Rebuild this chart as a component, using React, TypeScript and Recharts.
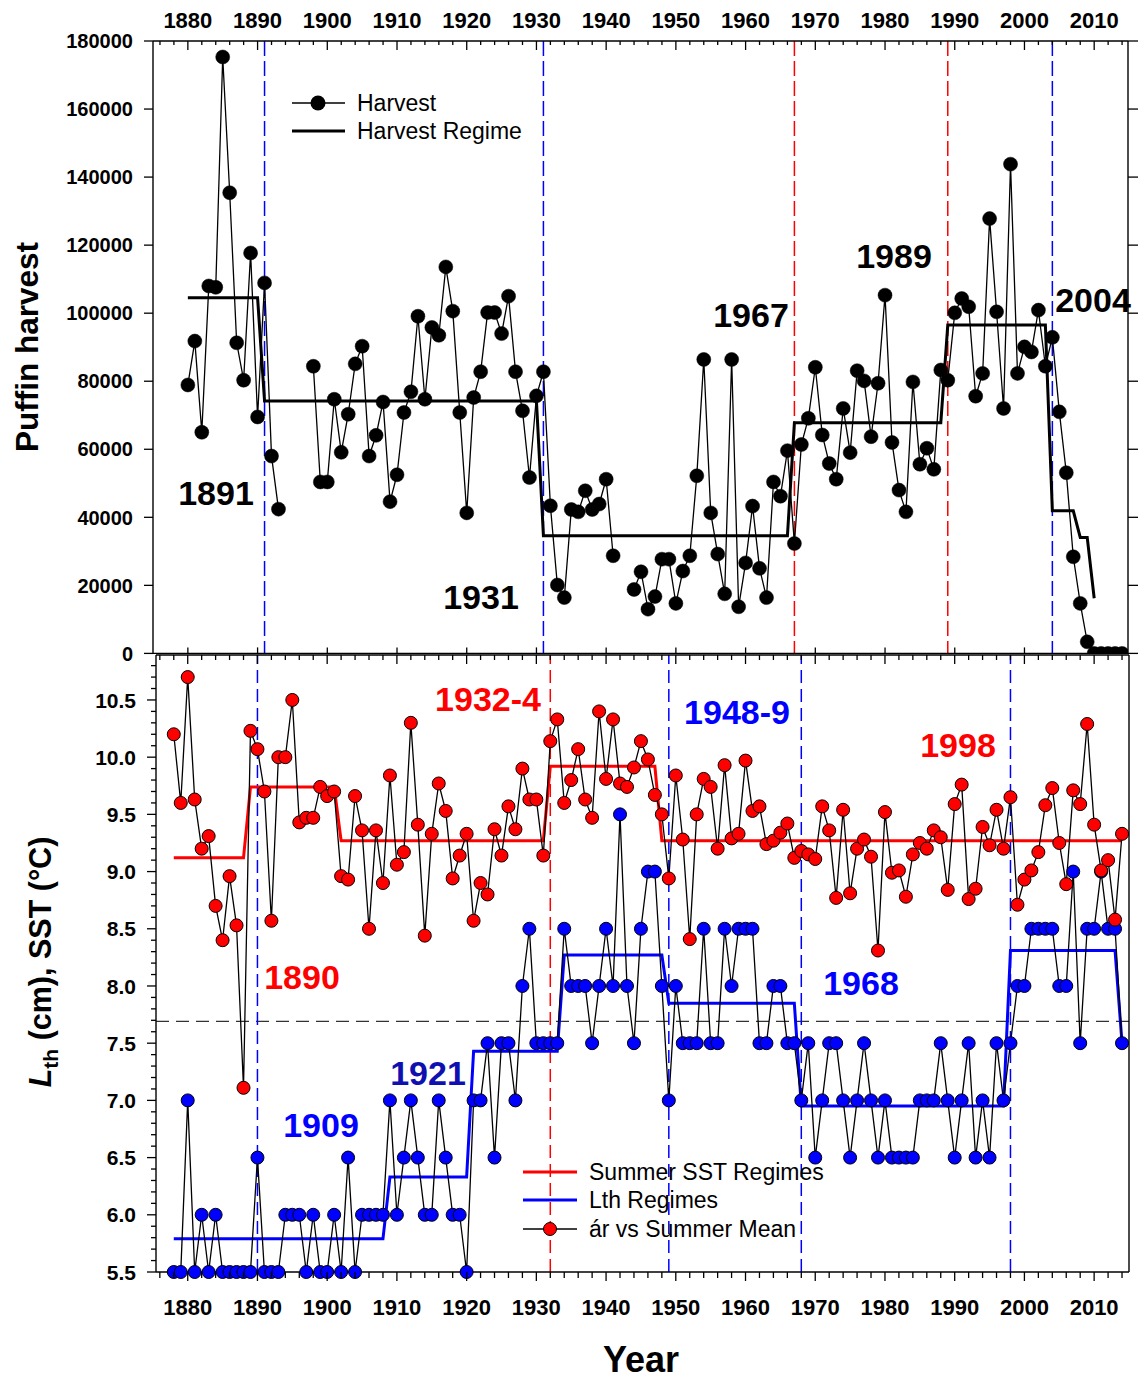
import React from "react";
import { ComposedChart, Line, XAxis, YAxis, ReferenceLine } from "recharts";

const FONT = "'Liberation Sans', Arial, Helvetica, sans-serif";
const INK = "#000";
const RED = "#ff0000";
const BLUE = "#0000ff";
const NAVY = "#1010b0";

// Puffin harvest, one value per year starting 1880 (null = no record)
const HARVEST_START = 1880;
const HARVEST: (number | null)[] = [
  78900, 91800, 65000, 108000, 107600, 175300, 135400, 91300, 80300, 117700,
  69500, 108900, 58000, 42400, null, null, null, null, 84400, 50400,
  50400, 74700, 59100, 70300, 85100, 90300, 58000, 64100, 73900, 44600,
  52500, 70800, 76900, 99100, 74700, 95800, 93500, 113600, 100600, 70800,
  41300, 75200, 82800, 100200, 100200, 94000, 105000, 82800, 71300, 51700,
  75700, 82800, 43400, 20100, 16400, 42300, 41600, 47800, 42300, 43900,
  51200, 28700, null, null, 18800, 24000, 13000, 16700, 27700, 27700,
  14700, 24200, 28700, 52200, 86400, 41300, 29200, 17500, 86400, 13700,
  26600, 43300, 25000, 16400, 50400, 46200, 59600, 32300, 61400, 69100,
  84100, 64200, 55800, 51200, 72000, 59000, 83100, 80100, 63700, 79400,
  105300, 62000, 48000, 41600, 79800, 55600, 60300, 54100, 83300, 80300,
  100100, 104300, 101900, 75600, 82300, 127800, 100400, 72000, 143800, 82300,
  90100, 88600, 100900, 84400, 92900, 71000, 53100, 28400, 14700, 3400,
  0, 0, 0, 0, 0,
];

// [first year, last year, level]
const HARVEST_REGIMES: [number, number, number][] = [
  [1880, 1890, 104500],
  [1891, 1930, 74200],
  [1931, 1966, 34600],
  [1967, 1988, 67800],
  [1989, 2003, 96500],
  [2004, 2007, 41900],
  [2008, 2009, 34100],
  [2010, 2010, 16200],
];

// Summer SST and Lth, one value per year starting 1878
const SERIES_START = 1878;
const SST = [
  10.2, 9.6, 10.7, 9.63, 9.2, 9.31, 8.7, 8.4, 8.96, 8.53,
  7.11, 10.23, 10.07, 9.7, 8.57, 10.0, 10.0, 10.5, 9.43, 9.47,
  9.47, 9.74, 9.66, 9.7, 8.96, 8.93, 9.66, 9.36, 8.5, 9.36,
  8.9, 9.84, 9.06, 9.17, 10.3, 9.41, 8.44, 9.33, 9.77, 9.53,
  8.94, 9.14, 9.33, 8.57, 8.9, 8.8, 9.37, 9.14, 9.57, 9.37,
  9.9, 9.63, 9.63, 9.14, 10.14, 10.33, 9.6, 9.8, 10.07, 9.63,
  9.47, 10.4, 9.81, 10.33, 9.77, 9.74, 9.91, 10.14, 9.98, 9.67,
  9.5, 8.94, 9.84, 9.28, 8.41, 9.5, 9.81, 9.74, 9.2, 9.93,
  9.29, 9.33, 9.97, 9.53, 9.57, 9.24, 9.27, 9.34, 9.42, 9.12,
  9.18, 9.15, 9.11, 9.57, 9.36, 8.77, 9.54, 8.81, 9.2, 9.28,
  9.13, 8.31, 9.52, 8.99, 9.01, 8.78, 9.15, 9.25, 9.2, 9.36,
  9.3, 8.84, 9.59, 9.76, 8.76, 8.85, 9.39, 9.23, 9.54, 9.2,
  9.65, 8.71, 8.93, 9.01, 9.17, 9.58, 9.73, 9.25, 8.89, 9.71,
  9.59, 10.29, 9.41, 9.01, 9.1, 8.58, 9.33,
];
const LTH = [
  5.5, 5.5, 7.0, 5.5, 6.0, 5.5, 6.0, 5.5, 5.5, 5.5,
  5.5, 5.5, 6.5, 5.5, 5.5, 5.5, 6.0, 6.0, 6.0, 5.5,
  6.0, 5.5, 5.5, 6.0, 5.5, 6.5, 5.5, 6.0, 6.0, 6.0,
  6.0, 7.0, 6.0, 6.5, 7.0, 6.5, 6.0, 6.0, 7.0, 6.5,
  6.0, 6.0, 5.5, 7.0, 7.0, 7.5, 6.5, 7.5, 7.5, 7.0,
  8.0, 8.5, 7.5, 7.5, 7.5, 7.5, 8.5, 8.0, 8.0, 8.0,
  7.5, 8.0, 8.5, 8.0, 9.5, 8.0, 7.5, 8.5, 9.0, 9.0,
  8.0, 7.0, 8.0, 7.5, 7.5, 7.5, 8.5, 7.5, 7.5, 8.5,
  8.0, 8.5, 8.5, 8.5, 7.5, 7.5, 8.0, 8.0, 7.5, 7.5,
  7.0, 7.5, 6.5, 7.0, 7.5, 7.5, 7.0, 6.5, 7.0, 7.5,
  7.0, 6.5, 7.0, 6.5, 6.5, 6.5, 6.5, 7.0, 7.0, 7.0,
  7.5, 7.0, 6.5, 7.0, 7.5, 6.5, 7.0, 6.5, 7.5, 7.0,
  7.5, 8.0, 8.0, 8.5, 8.5, 8.5, 8.5, 8.0, 8.0, 9.0,
  7.5, 8.5, 8.5, 9.0, 8.5, 8.5, 7.5,
];

const SST_REGIMES: [number, number, number][] = [
  [1878, 1888, 9.12],
  [1889, 1901, 9.74],
  [1902, 1931, 9.27],
  [1932, 1947, 9.92],
  [1948, 2014, 9.27],
];
const LTH_REGIMES: [number, number, number][] = [
  [1878, 1908, 5.79],
  [1909, 1920, 6.33],
  [1921, 1933, 7.43],
  [1934, 1948, 8.27],
  [1949, 1967, 7.85],
  [1968, 1997, 6.95],
  [1998, 2013, 8.31],
  [2014, 2014, 7.5],
];
const LTH_MEAN = 7.69;

// regime shifts marked with dashed verticals
const HARVEST_BREAKS = [
  { year: 1891, color: BLUE },
  { year: 1931, color: BLUE },
  { year: 1967, color: RED },
  { year: 1989, color: RED },
  { year: 2004, color: BLUE },
];
const LTH_BREAKS = [
  { year: 1890, color: BLUE },
  { year: 1932, color: RED },
  { year: 1949, color: BLUE },
  { year: 1968, color: BLUE },
  { year: 1998, color: BLUE },
];

const HARVEST_TICKS = [0, 20000, 40000, 60000, 80000, 100000, 120000, 140000, 160000, 180000];
const LTH_LABELS = [5.5, 6.0, 6.5, 7.0, 7.5, 8.0, 8.5, 9.0, 9.5, 10.0, 10.5];
const YEAR_TICKS: number[] = [];
for (let y = 1876; y <= 2014; y += 2) YEAR_TICKS.push(y);
const LTH_TICKS: number[] = [];
for (let i = 0; i <= 53; i++) LTH_TICKS.push(Math.round((5.5 + i * 0.1) * 10) / 10);

const TOP_X: [number, number] = [1875, 2014.85];
const BOT_X: [number, number] = [1875.45, 2015];
const BOT_Y: [number, number] = [5.5, 10.893];

function regimeAt(segs: [number, number, number][], year: number) {
  const s = segs.find(([a, b]) => year >= a && year <= b);
  return s ? s[2] : null;
}

const topRows = HARVEST.map((h, i) => {
  const year = HARVEST_START + i;
  return { year, harvest: h, regime: regimeAt(HARVEST_REGIMES, year) };
});

const bottomRows = SST.map((s, i) => {
  const year = SERIES_START + i;
  return {
    year,
    sst: s,
    lth: LTH[i],
    sstRegime: regimeAt(SST_REGIMES, year),
    lthRegime: regimeAt(LTH_REGIMES, year),
  };
});

type Side = "top" | "bottom" | "left" | "right";
interface TickSpec {
  side: Side;
  inward: boolean;
  major: number;
  minor: number;
  isMajor: (v: number) => boolean;
  label?: (v: number) => string;
  fontSize?: number;
}

// tickSize/tickMargin are 0, so x/y arrive exactly on the axis line
function tickRenderer(spec: TickSpec) {
  const base = { top: 1, bottom: -1, left: 1, right: -1 }[spec.side];
  const sign = spec.inward ? base : -base;
  const fs = spec.fontSize ?? 20;
  return (props: any) => {
    const { x, y, payload } = props;
    const v = payload.value as number;
    const big = spec.isMajor(v);
    const len = big ? spec.major : spec.minor;
    const vertical = spec.side === "top" || spec.side === "bottom";
    let text: React.ReactNode = null;
    if (big && spec.label) {
      const common = { fontFamily: FONT, fontWeight: 700, fontSize: fs, fill: INK };
      const s = spec.label(v);
      if (spec.side === "top") text = <text x={x} y={y - 13} textAnchor="middle" {...common}>{s}</text>;
      else if (spec.side === "bottom") text = <text x={x} y={y + 43} textAnchor="middle" {...common}>{s}</text>;
      else if (spec.side === "left") text = <text x={x - 20} y={y + fs * 0.36} textAnchor="end" {...common}>{s}</text>;
    }
    return (
      <g>
        {len > 0 &&
          (vertical ? (
            <line x1={x} x2={x} y1={y} y2={y + sign * len} stroke={INK} strokeWidth={1.3} />
          ) : (
            <line x1={x} x2={x + sign * len} y1={y} y2={y} stroke={INK} strokeWidth={1.3} />
          ))}
        {text}
      </g>
    );
  };
}

const decade = (v: number) => v % 10 === 0;
const halfUnit = (v: number) => Math.round(v * 10) % 5 === 0;
const AXIS_LINE = { stroke: INK, strokeWidth: 1.4 };
const axisCommon = { tickLine: false, tickSize: 0, tickMargin: 0, interval: 0 as const, axisLine: AXIS_LINE };

function HarvestPanel() {
  return (
    <ComposedChart width={1138} height={700} data={topRows} margin={{ top: 11, right: 0, bottom: 36.6, left: 93 }}>
      <XAxis
        xAxisId="t" orientation="top" dataKey="year" type="number" domain={TOP_X} allowDataOverflow
        ticks={YEAR_TICKS} height={30} {...axisCommon}
        tick={tickRenderer({ side: "top", inward: true, major: 9, minor: 4, isMajor: decade, label: String, fontSize: 22 })}
      />
      <XAxis
        xAxisId="b" orientation="bottom" dataKey="year" type="number" domain={TOP_X} allowDataOverflow
        ticks={YEAR_TICKS} height={10} {...axisCommon}
        tick={tickRenderer({ side: "bottom", inward: true, major: 6, minor: 0, isMajor: decade })}
      />
      <YAxis
        yAxisId="l" orientation="left" type="number" domain={[0, 180000]} allowDataOverflow
        ticks={HARVEST_TICKS} width={60} {...axisCommon}
        tick={tickRenderer({ side: "left", inward: false, major: 9, minor: 0, isMajor: () => true, label: String })}
      />
      <YAxis
        yAxisId="r" orientation="right" type="number" domain={[0, 180000]} allowDataOverflow
        ticks={HARVEST_TICKS} width={10} {...axisCommon}
        tick={tickRenderer({ side: "right", inward: false, major: 10, minor: 0, isMajor: () => true })}
      />
      {HARVEST_BREAKS.map((b) => (
        <ReferenceLine key={b.year} xAxisId="t" yAxisId="l" x={b.year} stroke={b.color} strokeWidth={1.5} strokeDasharray="15 5" />
      ))}
      <Line
        xAxisId="t" yAxisId="l" dataKey="regime" type="linear" stroke={INK} strokeWidth={3}
        dot={false} activeDot={false} isAnimationActive={false}
      />
      <Line
        xAxisId="t" yAxisId="l" dataKey="harvest" type="linear" stroke={INK} strokeWidth={1.3}
        dot={{ r: 7, fill: INK, stroke: INK, strokeWidth: 0.5 }} activeDot={false} isAnimationActive={false}
      />
    </ComposedChart>
  );
}

function LengthPanel() {
  return (
    <ComposedChart width={1138} height={742} data={bottomRows} margin={{ top: 5, right: 0, bottom: 50, left: 96 }}>
      <XAxis
        xAxisId="t" orientation="top" dataKey="year" type="number" domain={BOT_X}
        ticks={YEAR_TICKS} height={10} {...axisCommon}
        tick={tickRenderer({ side: "top", inward: true, major: 9, minor: 5, isMajor: decade })}
      />
      <XAxis
        xAxisId="b" orientation="bottom" dataKey="year" type="number" domain={BOT_X}
        ticks={YEAR_TICKS} height={60} {...axisCommon}
        tick={tickRenderer({ side: "bottom", inward: false, major: 9, minor: 6, isMajor: decade, label: String, fontSize: 22 })}
      />
      <YAxis
        yAxisId="l" orientation="left" type="number" domain={BOT_Y}
        ticks={LTH_TICKS} width={60} {...axisCommon}
        tick={tickRenderer({
          side: "left", inward: false, major: 9, minor: 5, isMajor: halfUnit,
          label: (v) => (LTH_LABELS.includes(v) ? v.toFixed(1) : ""), fontSize: 21,
        })}
      />
      <YAxis
        yAxisId="r" orientation="right" type="number" domain={BOT_Y}
        ticks={LTH_TICKS} width={9} {...axisCommon}
        tick={tickRenderer({ side: "right", inward: true, major: 8, minor: 5, isMajor: halfUnit })}
      />
      <ReferenceLine xAxisId="b" yAxisId="l" y={LTH_MEAN} stroke="#333" strokeWidth={1.3} strokeDasharray="13 7" />
      {LTH_BREAKS.map((b) => (
        <ReferenceLine key={b.year} xAxisId="b" yAxisId="l" x={b.year} stroke={b.color} strokeWidth={1.5} strokeDasharray="13 6" />
      ))}
      <Line
        xAxisId="b" yAxisId="l" dataKey="sstRegime" type="linear" stroke={RED} strokeWidth={3}
        dot={false} activeDot={false} isAnimationActive={false}
      />
      <Line
        xAxisId="b" yAxisId="l" dataKey="lthRegime" type="linear" stroke={BLUE} strokeWidth={3}
        dot={false} activeDot={false} isAnimationActive={false}
      />
      <Line
        xAxisId="b" yAxisId="l" dataKey="lth" type="linear" stroke={INK} strokeWidth={1.3}
        dot={{ r: 6.5, fill: BLUE, stroke: INK, strokeWidth: 1 }} activeDot={false} isAnimationActive={false}
      />
      <Line
        xAxisId="b" yAxisId="l" dataKey="sst" type="linear" stroke={INK} strokeWidth={1.3}
        dot={{ r: 6.5, fill: RED, stroke: INK, strokeWidth: 1 }} activeDot={false} isAnimationActive={false}
      />
    </ComposedChart>
  );
}

const NOTES = [
  { text: "1891", x: 216, y: 493, color: INK },
  { text: "1931", x: 481, y: 597, color: INK },
  { text: "1967", x: 751, y: 315, color: INK },
  { text: "1989", x: 894, y: 256, color: INK },
  { text: "2004", x: 1093, y: 300, color: INK },
  { text: "1932-4", x: 488, y: 699, color: RED },
  { text: "1948-9", x: 737, y: 712, color: BLUE },
  { text: "1998", x: 958, y: 745, color: RED },
  { text: "1890", x: 302, y: 977, color: RED },
  { text: "1968", x: 861, y: 983, color: BLUE },
  { text: "1921", x: 428, y: 1073, color: NAVY },
  { text: "1909", x: 321, y: 1125, color: BLUE },
];

function Overlay() {
  return (
    <svg width={1138} height={1382} style={{ position: "absolute", left: 0, top: 0, pointerEvents: "none" }} fontFamily={FONT}>
      {NOTES.map((n) => (
        <text key={n.text} x={n.x} y={n.y + 12} textAnchor="middle" fontSize={34} fontWeight={700} fill={n.color}>
          {n.text}
        </text>
      ))}

      <text transform="translate(27,347) rotate(-90)" y={11} textAnchor="middle" fontSize={31.5} fontWeight={700}>
        Puffin harvest
      </text>
      <text transform="translate(41,962) rotate(-90)" y={10} textAnchor="middle" fontSize={30.5} fontWeight={700}>
        <tspan fontStyle="italic">L</tspan>
        <tspan fontSize={21} dy={7}>th</tspan>
        <tspan dy={-7}> (cm), SST (°C)</tspan>
      </text>
      <text x={641} y={1372} textAnchor="middle" fontSize={36} fontWeight={700}>
        Year
      </text>

      {/* harvest legend */}
      <g fontSize={23}>
        <line x1={292} x2={345} y1={103} y2={103} stroke={INK} strokeWidth={1.3} />
        <circle cx={318} cy={103} r={7.5} fill={INK} />
        <text x={357} y={111}>Harvest</text>
        <line x1={292} x2={345} y1={131} y2={131} stroke={INK} strokeWidth={3} />
        <text x={357} y={139}>Harvest Regime</text>
      </g>

      {/* length / SST legend */}
      <g fontSize={23}>
        <line x1={523} x2={577} y1={1172} y2={1172} stroke={RED} strokeWidth={3} />
        <text x={589} y={1180}>Summer SST Regimes</text>
        <line x1={523} x2={577} y1={1200} y2={1200} stroke={BLUE} strokeWidth={3} />
        <text x={589} y={1208}>Lth Regimes</text>
        <line x1={523} x2={577} y1={1229} y2={1229} stroke={INK} strokeWidth={1.3} />
        <circle cx={550} cy={1229} r={6.5} fill={RED} stroke={INK} strokeWidth={1} />
        <text x={589} y={1237}>ár vs Summer Mean</text>
      </g>
    </svg>
  );
}

export default function App() {
  return (
    <div style={{ position: "absolute", left: 0, top: 0, width: 1138, height: 1382, background: "#fff", fontFamily: FONT }}>
      <div style={{ position: "absolute", left: 0, top: 0 }}>
        <HarvestPanel />
      </div>
      <div style={{ position: "absolute", left: 0, top: 640 }}>
        <LengthPanel />
      </div>
      <Overlay />
    </div>
  );
}
